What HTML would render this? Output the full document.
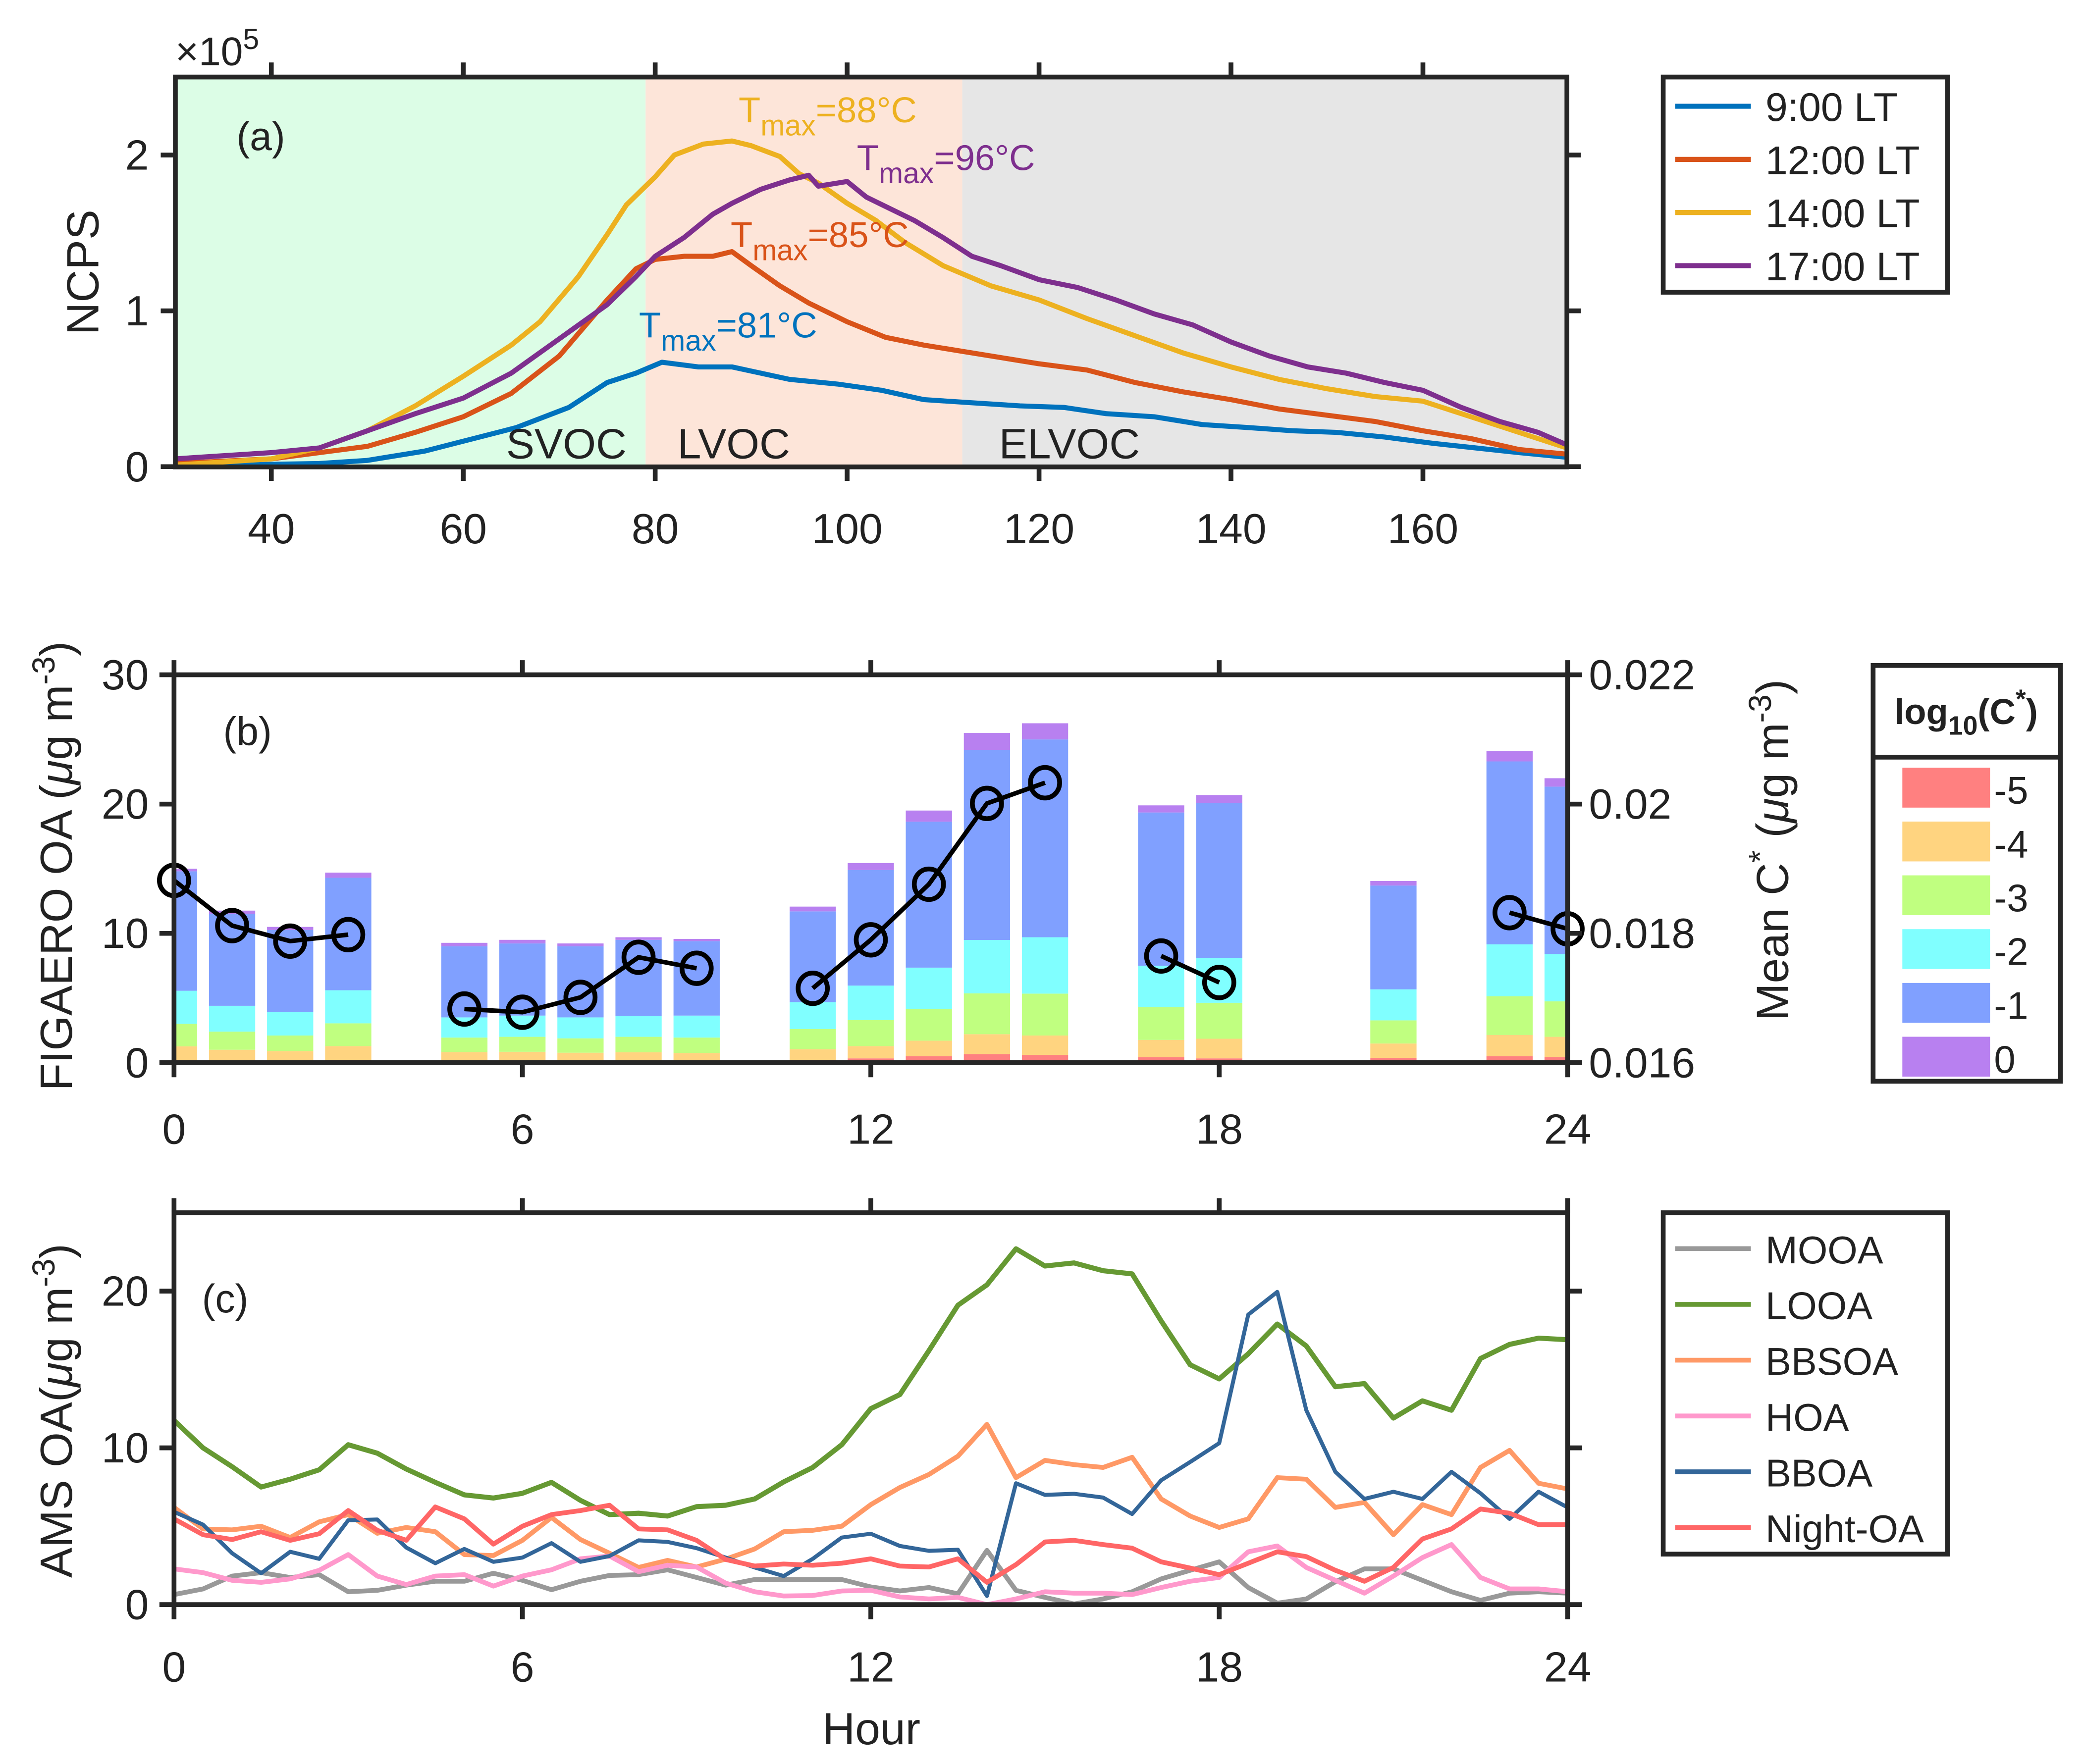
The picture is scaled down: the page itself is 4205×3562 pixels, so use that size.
<!DOCTYPE html>
<html><head><meta charset="utf-8"><style>
html,body{margin:0;padding:0;background:#fff}
svg{display:block}
text{font-family:"Liberation Sans",Arial,sans-serif;fill:#222}
</style></head><body>
<svg id="fig" xmlns="http://www.w3.org/2000/svg" width="4205" height="3562" viewBox="0 0 1568 1328" preserveAspectRatio="none">
<defs>
<clipPath id="clipA"><rect x="132" y="58" width="1047.5" height="293.5"/></clipPath>
<clipPath id="clipB"><rect x="131" y="508" width="1049" height="292"/></clipPath>
<clipPath id="clipC"><rect x="131" y="913" width="1049" height="295"/></clipPath>
</defs>
<g id="pa"></g>
<g id="pb"></g>
<g id="pc"></g>
<g id="leg"></g>
</svg>
<script>
// ---------- Panel (a) data ----------
const a9X = [30,40,45,50,56,65.5,71,75,78,80.7,84.5,88,94,99,103.6,108,113,118,122.6,127,132,137,142,146.5,151,156,161,165.5,170,175];
const a9Y = [0,0.015,0.02,0.04,0.1,0.25,0.38,0.54,0.6,0.67,0.64,0.64,0.56,0.53,0.49,0.43,0.41,0.39,0.38,0.34,0.32,0.27,0.25,0.23,0.22,0.19,0.15,0.12,0.09,0.06];
const a12X = [30,40,50,55,60,65,70,75,78,80,83,86,88,90,93,96,100,104,108,112,116,120,125,130,135,140,145,150,155,160,165,170,175];
const a12Y = [0.02,0.05,0.13,0.22,0.32,0.47,0.71,1.07,1.27,1.33,1.35,1.35,1.38,1.29,1.16,1.05,0.93,0.83,0.78,0.74,0.70,0.66,0.62,0.54,0.48,0.43,0.37,0.33,0.29,0.23,0.18,0.11,0.08];
const a14X = [30,40,45,50,55,60,65,68,72,75,77,80,82,85,88,90,93,95,97,100,103,106,110,115,120,125,130,135,140,145,150,155,160,165,170,175];
const a14Y = [0.01,0.05,0.12,0.23,0.39,0.58,0.78,0.93,1.22,1.49,1.68,1.86,2.0,2.07,2.09,2.06,1.99,1.88,1.82,1.69,1.58,1.44,1.29,1.16,1.07,0.95,0.84,0.73,0.64,0.56,0.50,0.45,0.42,0.32,0.22,0.12];
const a17X = [30,35,40,45,50,55,60,65,70,75,78,80,83,86,88,91,94,96,97,100,102,105,107,110,113,116,120,124,128,132,136,140,144,148,152,156,160,164,168,172,175];
const a17Y = [0.05,0.07,0.09,0.12,0.23,0.34,0.44,0.60,0.82,1.04,1.22,1.35,1.47,1.62,1.69,1.78,1.84,1.87,1.80,1.83,1.73,1.64,1.58,1.47,1.35,1.29,1.20,1.15,1.07,0.98,0.91,0.80,0.71,0.64,0.60,0.54,0.49,0.38,0.29,0.22,0.14];
const aXTicks = [40,60,80,100,120,140,160];
const aYTicks = [0,1,2];
const regionEdges = [30,79,112,175];

// ---------- Panel (b) data ----------
const bHours = [0,1,2,3,5,6,7,8,9,11,12,13,14,15,17,18,21,23,24];
const bBin5 = [0.2,0.18,0.13,0.22,0.09,0.09,0.07,0.15,0.11,0.22,0.33,0.5,0.66,0.6,0.42,0.33,0.37,0.5,0.44];
const bBin4 = [1.06,0.82,0.77,1.06,0.73,0.75,0.7,0.65,0.64,0.82,0.95,1.2,1.54,1.5,1.34,1.52,1.11,1.64,1.56];
const bBin3 = [1.74,1.4,1.2,1.76,1.12,1.16,1.11,1.2,1.19,1.56,2.02,2.45,3.16,3.24,2.54,2.78,1.79,3.0,2.74];
const bBin2 = [2.56,2.0,1.8,2.56,1.56,1.64,1.62,1.6,1.7,2.08,2.66,3.2,4.13,4.36,3.2,3.47,2.4,4.01,3.66];
const bBin1 = [9.24,7.1,6.36,8.7,5.5,5.58,5.5,5.9,5.76,7.02,8.94,11.29,14.71,15.3,11.85,12.0,8.03,14.15,12.95];
const bBin0 = [0.2,0.26,0.24,0.4,0.27,0.28,0.22,0.2,0.17,0.37,0.54,0.86,1.3,1.25,0.55,0.6,0.35,0.8,0.65];
const meanCHours = [[0,1,2,3],[5,6,7,8,9],[11,12,13,14,15],[17,18],[23,24]];
const meanCVals = [[0.01882,0.01812,0.01788,0.01798],[0.01683,0.01678,0.01701,0.01763,0.01746],[0.01715,0.0179,0.01876,0.02001,0.02033],[0.01765,0.01724],[0.01832,0.01807]];
const bXTicks = [0,6,12,18,24];
const bYTicks = [0,10,20,30];
const bY2Ticks = [0.016,0.018,0.02,0.022];
const bY2Labels = ["0.016","0.018","0.02","0.022"];

// ---------- Panel (c) data ----------
const cHours = [0,0.5,1,1.5,2,2.5,3,3.5,4,4.5,5,5.5,6,6.5,7,7.5,8,8.5,9,9.5,10,10.5,11,11.5,12,12.5,13,13.5,14,14.5,15,15.5,16,16.5,17,17.5,18,18.5,19,19.5,20,20.5,21,21.5,22,22.5,23,23.5,24];
const cMOOA = [0.64,1.0,1.82,2.04,1.73,1.91,0.82,0.91,1.24,1.49,1.49,2.0,1.55,0.95,1.49,1.86,1.91,2.22,1.73,1.24,1.6,1.6,1.6,1.6,1.13,0.87,1.09,0.69,3.46,0.91,0.46,0.04,0.36,0.82,1.64,2.19,2.73,1.09,0.09,0.36,1.46,2.28,2.28,1.55,0.82,0.27,0.73,0.82,0.73];
const cLOOA = [11.75,10.0,8.8,7.5,8.0,8.6,10.2,9.66,8.65,7.8,7.0,6.8,7.1,7.8,6.65,5.74,5.83,5.65,6.25,6.34,6.74,7.83,8.75,10.2,12.5,13.4,16.2,19.1,20.4,22.7,21.6,21.8,21.3,21.1,18.1,15.3,14.4,16.0,17.9,16.5,13.9,14.1,11.9,13.0,12.4,15.7,16.6,17.0,16.9];
const cBBSOA = [6.2,4.83,4.77,5.0,4.28,5.28,5.74,4.55,4.92,4.65,3.19,3.13,4.1,5.56,4.15,3.28,2.37,2.82,2.4,2.9,3.55,4.65,4.74,5.0,6.38,7.47,8.3,9.47,11.5,8.1,9.2,8.93,8.75,9.4,6.74,5.65,4.92,5.47,8.1,8.0,6.2,6.52,4.46,6.38,5.74,8.75,9.84,7.74,7.38];
const cHOA = [2.28,2.04,1.55,1.42,1.64,2.19,3.19,1.82,1.28,1.82,1.91,1.18,1.82,2.22,2.92,3.1,2.1,2.51,2.4,1.37,0.82,0.55,0.58,0.87,0.91,0.49,0.36,0.46,0.0,0.36,0.82,0.73,0.73,0.64,1.09,1.49,1.73,3.37,3.74,2.37,1.55,0.73,1.82,3.0,3.83,1.73,1.0,1.0,0.82];
const cBBOA = [5.92,5.1,3.28,2.0,3.37,2.92,5.38,5.43,3.64,2.64,3.55,2.73,3.0,3.92,2.73,3.1,4.1,4.0,3.6,3.0,2.37,1.82,2.92,4.28,4.52,3.74,3.43,3.5,0.55,7.74,7.0,7.07,6.83,5.78,7.93,9.1,10.3,18.5,19.95,12.4,8.47,6.74,7.2,6.74,8.47,7.1,5.47,7.2,6.2];
const cNight = [5.47,4.46,4.15,4.65,4.1,4.52,6.0,4.74,4.1,6.23,5.47,3.86,5.0,5.74,6.0,6.34,4.83,4.77,4.1,2.88,2.46,2.59,2.51,2.64,2.92,2.46,2.4,2.92,1.42,2.55,4.0,4.1,3.83,3.6,2.73,2.33,1.91,2.64,3.37,3.06,2.19,1.49,2.37,4.19,4.83,6.1,5.83,5.1,5.1];
const cXTicks = [0,6,12,18,24];
const cYTicks = [0,10,20];

const NS="http://www.w3.org/2000/svg";
function mk(parent,tag,attrs,txt){const e=document.createElementNS(NS,tag);for(const k in attrs)e.setAttribute(k,attrs[k]);if(txt!==undefined)e.textContent=txt;parent.appendChild(e);return e;}
const AX="#262626";
const AW=3.6, TF=32, LF=34;

const axA = v=>132+(v-30)*7.224, ayA = v=>351.3-v*117.3;
const axB = h=>131+h*43.71, ayB = v=>800-v*9.733, ayB2 = v=>800-(v-0.016)/0.006*292;
const axC = h=>131+h*43.71, ayC = v=>1208-v*11.8;

function pathD(xs,ys,fx,fy){return xs.map((x,i)=>(i?'L':'M')+fx(x).toFixed(2)+','+fy(ys[i]).toFixed(2)).join('');}

// ===== Panel A =====
const pa=document.getElementById('pa');
const regCols=['#dcfde6','#fde5d9','#e6e6e6'];
const regNames=['svoc-region','lvoc-region','elvoc-region'];
for(let i=0;i<3;i++){
  const r=mk(pa,'rect',{x:axA(regionEdges[i]),y:58,width:axA(regionEdges[i+1])-axA(regionEdges[i]),height:293.5,fill:regCols[i]});
  
  
}
const aSeries=[[a9X,a9Y,'#0072BD','line-9lt'],[a12X,a12Y,'#D95319','line-12lt'],[a14X,a14Y,'#EDB120','line-14lt'],[a17X,a17Y,'#7E2F8E','line-17lt']];
const gA=mk(pa,'g',{'clip-path':'url(#clipA)'});
aSeries.forEach(s=>{const p=mk(gA,'path',{d:pathD(s[0],s[1],axA,ayA),fill:'none',stroke:s[2],'stroke-width':3.8,'stroke-linejoin':'round'});
  
  });
mk(pa,'rect',{x:132,y:58,width:1047.5,height:293.5,fill:'none',stroke:AX,'stroke-width':AW});
aXTicks.forEach(t=>{const x=axA(t);mk(pa,'line',{x1:x,y1:351,x2:x,y2:362,stroke:AX,'stroke-width':AW});mk(pa,'line',{x1:x,y1:58,x2:x,y2:47,stroke:AX,'stroke-width':AW});
  const l=mk(pa,'text',{x:x,y:409,'font-size':TF,'text-anchor':'middle'},String(t));
  
  });
aYTicks.forEach(t=>{const y=ayA(t);mk(pa,'line',{x1:132,y1:y,x2:121,y2:y,stroke:AX,'stroke-width':AW});mk(pa,'line',{x1:1179,y1:y,x2:1190,y2:y,stroke:AX,'stroke-width':AW});
  const l=mk(pa,'text',{x:112,y:y+11,'font-size':TF,'text-anchor':'end'},String(t));
  
  });
let t;
t=mk(pa,'text',{x:132,y:49,'font-size':30},'');t.innerHTML='×10<tspan dy="-12" font-size="22">5</tspan>';
t=mk(pa,'text',{x:74,y:205,'font-size':LF,'text-anchor':'middle',transform:'rotate(-90 74 205)'},'NCPS');
t=mk(pa,'text',{x:178,y:113,'font-size':30},'(a)');
function tmax(x,y,col,val,name){const e=mk(pa,'text',{x:x,y:y,'font-size':27,fill:col},'');e.innerHTML='<tspan fill="'+col+'">T</tspan><tspan dy="10" font-size="22" fill="'+col+'">max</tspan><tspan dy="-10" fill="'+col+'">='+val+'°C</tspan>';e.style.fill=col;}
tmax(556,92,'#EDB120','88','tmax-label-14lt');
tmax(645,128,'#7E2F8E','96','tmax-label-17lt');
tmax(550,186,'#D95319','85','tmax-label-12lt');
tmax(481,254,'#0072BD','81','tmax-label-9lt');
[['SVOC',381],['LVOC',510],['ELVOC',752]].forEach(r=>{const e=mk(pa,'text',{x:r[1],y:345,'font-size':32,fill:'#000'},r[0]);});

// ===== Panel B =====
const pb=document.getElementById('pb');
const gB=mk(pb,'g',{'clip-path':'url(#clipB)'});
const bins=[bBin5,bBin4,bBin3,bBin2,bBin1,bBin0];
const binCols=['#FF8080','#FFD480','#C0FF80','#80FFFF','#80A0FF','#B880F0'];
bHours.forEach((h,i)=>{let base=0;const bw=34.8;
  bins.forEach((b,k)=>{const v=b[i];const y1=ayB(base),y2=ayB(base+v);
    const r=mk(gB,'rect',{x:axB(h)-bw/2,y:y2,width:bw,height:y1-y2,fill:binCols[k]});
    
    
    base+=v;});
});
meanCHours.forEach((hs,si)=>{const p=mk(pb,'path',{d:pathD(hs,meanCVals[si],axB,ayB2),fill:'none',stroke:'#000','stroke-width':3.4});
  
  
  hs.forEach((h,j)=>{const c=mk(pb,'ellipse',{cx:axB(h),cy:ayB2(meanCVals[si][j]),rx:11,ry:11.5,fill:'none',stroke:'#000','stroke-width':3.6});
    
    });
});
mk(pb,'rect',{x:131,y:508,width:1049,height:292,fill:'none',stroke:AX,'stroke-width':AW});
bXTicks.forEach(tk=>{const x=axB(tk);mk(pb,'line',{x1:x,y1:800,x2:x,y2:811,stroke:AX,'stroke-width':AW});mk(pb,'line',{x1:x,y1:508,x2:x,y2:497,stroke:AX,'stroke-width':AW});
  const l=mk(pb,'text',{x:x,y:861,'font-size':TF,'text-anchor':'middle'},String(tk));});
bYTicks.forEach(tk=>{const y=ayB(tk);mk(pb,'line',{x1:131,y1:y,x2:120,y2:y,stroke:AX,'stroke-width':AW});
  const l=mk(pb,'text',{x:112,y:y+11,'font-size':TF,'text-anchor':'end'},String(tk));});
bY2Ticks.forEach((tk,i)=>{const y=ayB2(tk);mk(pb,'line',{x1:1180,y1:y,x2:1191,y2:y,stroke:AX,'stroke-width':AW});
  const l=mk(pb,'text',{x:1196,y:y+11,'font-size':TF},bY2Labels[i]);});
t=mk(pb,'text',{x:54,y:652,'font-size':LF,'text-anchor':'middle',transform:'rotate(-90 54 652)'},'');t.innerHTML='FIGAERO OA (<tspan font-style="italic">μ</tspan>g m<tspan dy="-13" font-size="24">-3</tspan><tspan dy="13">)</tspan>';
t=mk(pb,'text',{x:1346,y:640,'font-size':LF,'text-anchor':'middle',transform:'rotate(-90 1346 640)'},'');t.innerHTML='Mean C<tspan dy="-13" font-size="24">*</tspan><tspan dy="13"> (</tspan><tspan font-style="italic">μ</tspan>g m<tspan dy="-13" font-size="24">-3</tspan><tspan dy="13">)</tspan>';
t=mk(pb,'text',{x:168,y:561,'font-size':30},'(b)');

// ===== Panel C =====
const pc=document.getElementById('pc');
const gC=mk(pc,'g',{'clip-path':'url(#clipC)'});
const cSeries=[[cMOOA,'#999999',3.6,'line-mooa'],[cLOOA,'#669933',3.8,'line-looa'],[cBBSOA,'#FF9966',3.6,'line-bbsoa'],[cHOA,'#FF99CC',3.6,'line-hoa'],[cBBOA,'#336699',3.0,'line-bboa'],[cNight,'#FF6666',3.6,'line-night-oa']];
cSeries.forEach(s=>{const p=mk(gC,'path',{d:pathD(cHours,s[0],axC,ayC),fill:'none',stroke:s[1],'stroke-width':s[2],'stroke-linejoin':'round'});
  
  });
mk(pc,'rect',{x:131,y:913,width:1049,height:295,fill:'none',stroke:AX,'stroke-width':AW});
cXTicks.forEach(tk=>{const x=axC(tk);mk(pc,'line',{x1:x,y1:1208,x2:x,y2:1219,stroke:AX,'stroke-width':AW});mk(pc,'line',{x1:x,y1:913,x2:x,y2:902,stroke:AX,'stroke-width':AW});
  const l=mk(pc,'text',{x:x,y:1266,'font-size':TF,'text-anchor':'middle'},String(tk));});
cYTicks.forEach(tk=>{const y=ayC(tk);mk(pc,'line',{x1:131,y1:y,x2:120,y2:y,stroke:AX,'stroke-width':AW});mk(pc,'line',{x1:1180,y1:y,x2:1191,y2:y,stroke:AX,'stroke-width':AW});
  const l=mk(pc,'text',{x:112,y:y+11,'font-size':TF,'text-anchor':'end'},String(tk));});
t=mk(pc,'text',{x:54,y:1062,'font-size':LF,'text-anchor':'middle',transform:'rotate(-90 54 1062)'},'');t.innerHTML='AMS OA(<tspan font-style="italic">μ</tspan>g m<tspan dy="-13" font-size="24">-3</tspan><tspan dy="13">)</tspan>';
t=mk(pc,'text',{x:656,y:1313,'font-size':LF,'text-anchor':'middle'},'Hour');
t=mk(pc,'text',{x:152,y:988,'font-size':30},'(c)');

// ===== Legends =====
const leg=document.getElementById('leg');
const la=mk(leg,'g',{});
mk(la,'rect',{x:1252,y:58,width:214,height:162,fill:'#fff',stroke:AX,'stroke-width':AW});
[['9:00 LT','#0072BD'],['12:00 LT','#D95319'],['14:00 LT','#EDB120'],['17:00 LT','#7E2F8E']].forEach((e,i)=>{const y=80+i*40;
  mk(la,'line',{x1:1261,y1:y,x2:1318,y2:y,stroke:e[1],'stroke-width':3.8});
  const tx=mk(la,'text',{x:1329,y:y+11,'font-size':30},e[0]);});
const lb=mk(leg,'g',{});
mk(lb,'rect',{x:1410,y:501,width:141,height:313,fill:'#fff',stroke:AX,'stroke-width':AW});
mk(lb,'line',{x1:1410,y1:570,x2:1551,y2:570,stroke:AX,'stroke-width':AW});
t=mk(lb,'text',{x:1480,y:545,'font-size':27,'font-weight':'bold','text-anchor':'middle',fill:'#000'},'');t.innerHTML='log<tspan dy="8" font-size="20">10</tspan><tspan dy="-8">(C</tspan><tspan dy="-12" font-size="20">*</tspan><tspan dy="12">)</tspan>';
['-5','-4','-3','-2','-1','0'].forEach((lab,i)=>{const y=578+i*40.5;
  mk(lb,'rect',{x:1432,y:y,width:66,height:30,fill:binCols[i]});
  const tx=mk(lb,'text',{x:1501,y:y+27,'font-size':29,fill:'#000'},lab);});
const lc=mk(leg,'g',{});
mk(lc,'rect',{x:1252,y:913,width:214,height:257,fill:'#fff',stroke:AX,'stroke-width':AW});
[['MOOA','#999999'],['LOOA','#669933'],['BBSOA','#FF9966'],['HOA','#FF99CC'],['BBOA','#336699'],['Night-OA','#FF6666']].forEach((e,i)=>{const y=940+i*42;
  mk(lc,'line',{x1:1261,y1:y,x2:1318,y2:y,stroke:e[1],'stroke-width':3.6});
  const tx=mk(lc,'text',{x:1329,y:y+11,'font-size':29},e[0]);});
</script>
</body></html>
